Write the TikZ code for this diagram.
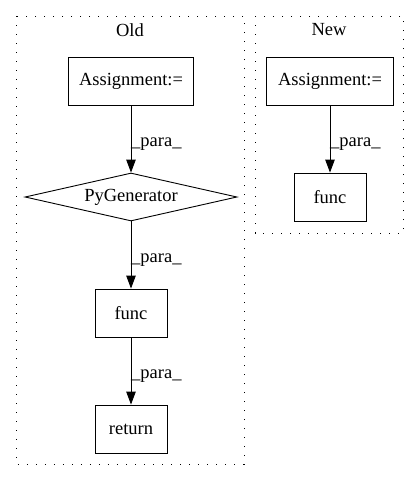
\documentclass[tikz,border=0pt]{standalone}
\usepackage{fontspec}
\setmainfont{Liberation Serif}
\usetikzlibrary{arrows.meta,shapes.geometric}
\newcommand\gvfont{\fontsize{18.5}{21}\selectfont}
\begin{document}
\begin{tikzpicture}[x=1pt,y=-1pt,
  box/.style={draw,line width=0.9pt,rectangle,inner sep=0pt,font=\gvfont},
  dia/.style={draw,line width=0.9pt,diamond,aspect=4.4,inner sep=0pt,minimum width=212pt,minimum height=48pt,font=\gvfont},
  cluster/.style={draw,line width=1pt,dash pattern=on 1.2pt off 7.8pt},
  ctitle/.style={font=\gvfont,inner sep=0pt},
  edge/.style={draw,line width=0.9pt,-{Triangle[length=13pt,width=9.5pt]}},
  lab/.style={anchor=west,inner sep=0pt,font=\gvfont}]
\useasboundingbox (0,0) rectangle (419,480);
% clusters
\draw[cluster] (16,16) rectangle (244,464);
\node[ctitle] (oldt) at (130,30) {Old};
\draw[cluster] (255,16) rectangle (403,233);
\node[ctitle] (newt) at (329,30) {New};
% Old
\node[box,minimum width=125pt,minimum height=48pt] (a1) at (131,81) {Assignment:=};
\node[dia] (pg) at (131,197) {PyGenerator};
\node[box,minimum width=72pt,minimum height=48pt] (f1) at (131,313) {func};
\node[box,minimum width=72pt,minimum height=48pt] (r1) at (131,429) {return};
\draw[edge] (a1) -- (pg.north);
\draw[edge] (pg.south) -- (f1);
\draw[edge] (f1) -- (r1);
\node[lab] (l1) at (131,144) {\_para\_};
\node[lab] (l2) at (131,260) {\_para\_};
\node[lab] (l3) at (131,376) {\_para\_};
% New
\node[box,minimum width=127pt,minimum height=48pt] (a2) at (330,81) {Assignment:=};
\node[box,minimum width=72pt,minimum height=48pt] (f2) at (330,197) {func};
\draw[edge] (a2) -- (f2);
\node[lab] (l4) at (330,144) {\_para\_};
\end{tikzpicture}
\end{document}
